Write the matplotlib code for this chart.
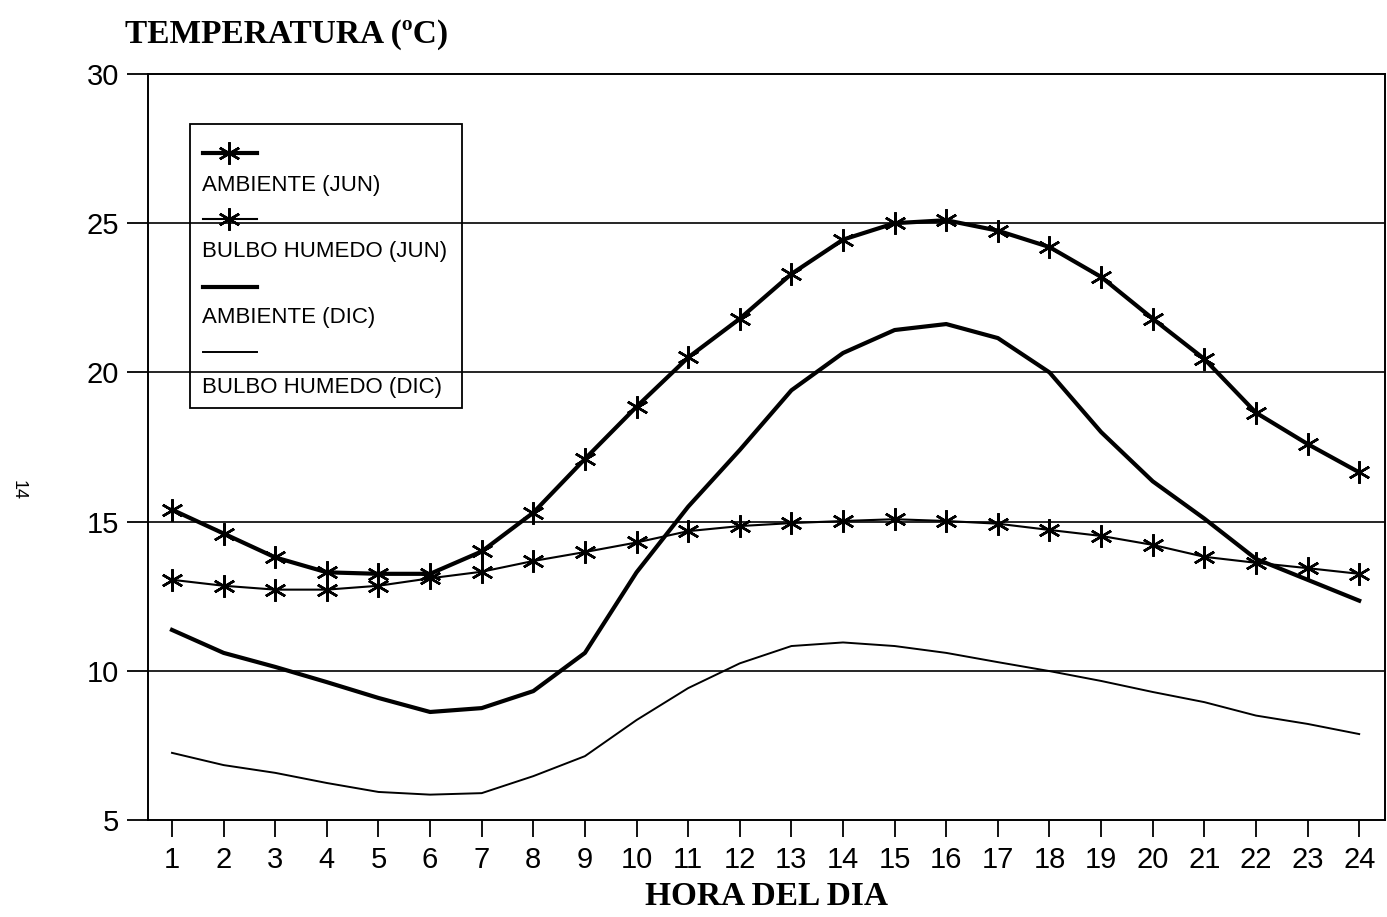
import matplotlib
matplotlib.use("Agg")
import matplotlib.pyplot as plt
from matplotlib.lines import Line2D
from matplotlib.patches import Rectangle

hours = list(range(1, 25))

amb_jun = [15.4, 14.6, 13.8, 13.3, 13.25, 13.25, 14.0, 15.3, 17.1, 18.85, 20.5, 21.8,
           23.3, 24.45, 25.0, 25.1, 24.75, 24.2, 23.2, 21.8, 20.45, 18.65, 17.6, 16.65]
bh_jun = [13.05, 12.85, 12.72, 12.72, 12.85, 13.1, 13.32, 13.68, 13.98, 14.3, 14.68, 14.85,
          14.95, 15.02, 15.08, 15.02, 14.93, 14.72, 14.52, 14.22, 13.82, 13.62, 13.44, 13.25]
amb_dic = [11.37, 10.6, 10.13, 9.62, 9.09, 8.62, 8.75, 9.32, 10.6, 13.3, 15.5, 17.4,
           19.4, 20.65, 21.42, 21.62, 21.15, 20.0, 18.0, 16.35, 15.1, 13.75, 13.05, 12.35]
bh_dic = [7.25, 6.84, 6.58, 6.24, 5.94, 5.85, 5.9, 6.47, 7.14, 8.35, 9.42, 10.25,
          10.83, 10.95, 10.83, 10.6, 10.29, 9.99, 9.66, 9.29, 8.95, 8.5, 8.22, 7.88]

series_labels = ["AMBIENTE (JUN)", "BULBO HUMEDO (JUN)", "AMBIENTE (DIC)", "BULBO HUMEDO (DIC)"]
y_ticks = [5, 10, 15, 20, 25, 30]
grid_levels = [10, 15, 20, 25]

STAR = (6, 2, 0)
styles = [
    dict(color="black", lw=3.0, marker=STAR, ms=16, mew=1.8),
    dict(color="black", lw=1.5, marker=STAR, ms=16, mew=1.8),
    dict(color="black", lw=3.0),
    dict(color="black", lw=1.4),
]

W, H = 1387, 917
fig = plt.figure(figsize=(W / 100, H / 100), dpi=100)
ax = fig.add_axes([148 / W, 1 - 820 / H, (1385 - 148) / W, (820 - 74) / H])

for data, st in zip([amb_jun, bh_jun, amb_dic, bh_dic], styles):
    ax.plot(hours, data, solid_joinstyle="round", **st)

for g in grid_levels:
    ax.axhline(g, color="black", lw=1.2, zorder=0)

ax.set_xlim(0.535, 24.5)
ax.set_ylim(5, 30)
ax.set_xticks(hours)
ax.set_yticks(y_ticks)
tick_font = dict(family="Liberation Sans", size=21)
ax.set_xticklabels([str(h) for h in hours], fontdict=tick_font)
ax.set_yticklabels([str(v) for v in y_ticks], fontdict=tick_font)
ax.tick_params(axis="x", direction="out", length=12, width=1.3, pad=7)
ax.tick_params(axis="y", direction="out", length=15, width=1.3, pad=6)
for sp in ax.spines.values():
    sp.set_linewidth(1.4)

ax.set_xlabel("HORA DEL DIA", family="Liberation Serif", weight="bold", size=24, labelpad=5)
fig.text(125 / W, 1 - 34 / H, "TEMPERATURA (ºC)", family="Liberation Serif", weight="bold",
         size=24, ha="left", va="center")
fig.text(18 / W, 1 - 490 / H, "14", family="Liberation Sans", size=13, rotation=-90,
         ha="center", va="center")

# hand-built legend: handle line above each label
fig.add_artist(Rectangle((190 / W, 1 - 408 / H), (462 - 190) / W, (408 - 124) / H,
                         transform=fig.transFigure, fill=False, lw=1.3, ec="black"))
handle_y = [153, 219, 287, 352]
label_y = [186, 252, 318, 387]
for st, hy, ly, lab in zip(styles, handle_y, label_y, series_labels):
    kw = dict(st)
    mk = kw.pop("marker", None)
    ms = kw.pop("ms", None)
    mew = kw.pop("mew", None)
    fig.add_artist(Line2D([203 / W, 257 / W], [1 - hy / H, 1 - hy / H],
                          transform=fig.transFigure, **kw))
    if mk is not None:
        fig.add_artist(Line2D([229 / W], [1 - hy / H], transform=fig.transFigure,
                              marker=mk, ms=ms, mew=mew, color="black", lw=0))
    fig.text(202 / W, 1 - ly / H, lab, family="Liberation Sans", size=16,
             ha="left", va="center")

fig.savefig("out.png", dpi=100)
